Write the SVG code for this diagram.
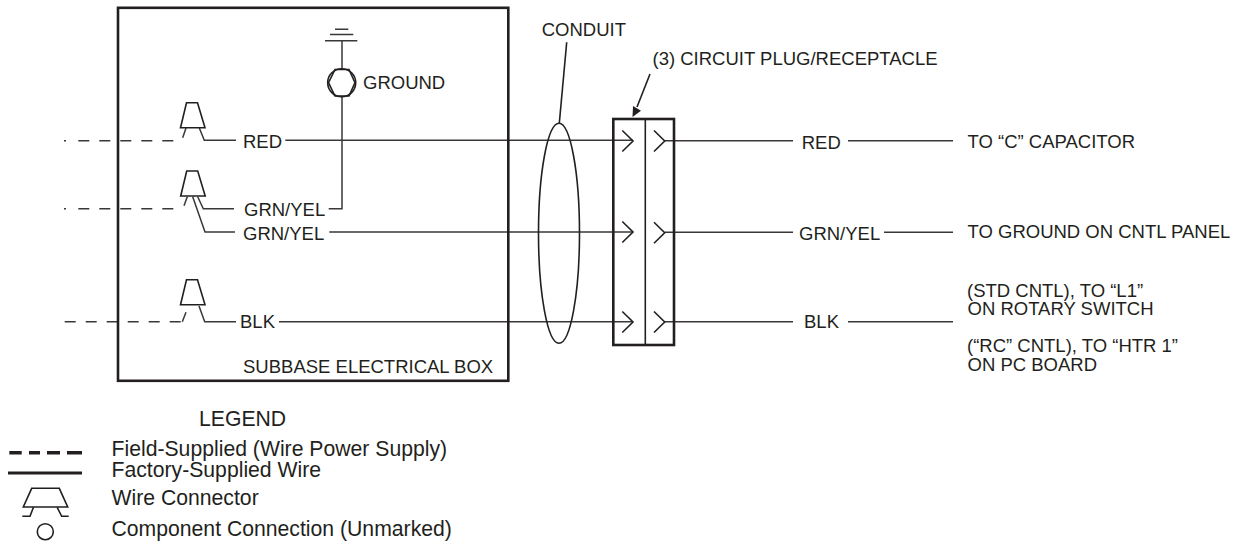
<svg xmlns="http://www.w3.org/2000/svg" width="1239" height="544" viewBox="0 0 1239 544">
<style>
text{font-family:"Liberation Sans",Arial,sans-serif;font-size:18.5px;fill:#231f20}
.l{font-size:21.2px}
.w{fill:none;stroke:#3a3738;stroke-width:1.5}
.d{fill:none;stroke:#3a3738;stroke-width:1.5;stroke-dasharray:11 10}
.k{fill:none;stroke:#231f20;stroke-width:1.6}
.b{fill:none;stroke:#231f20;stroke-width:2.6}
</style>
<defs>
<g id="conn"><path class="k" d="M6 0H17L24.500 25H0Z"/></g>
<path id="chev" class="k" d="M0 -10.500L10.700 0L0 10.500"/>
</defs>
<g id="connectors">
<path class="d" d="M64 140.700H66M78.300 140.700H174"/>
<path class="w" d="M186 128L182.700 137.700M199.300 128L204.300 140.300H236M285.300 140.300H633"/>
<path class="d" d="M64 208.700H66M78.300 208.700H174"/>
<path class="w" d="M187.300 196.700L184 205.700M197.700 196.700L203.300 208.700H234M328.700 208.700H342V96.700M192.700 196.700L205 232H235M329.300 232H633"/>
<path class="d" d="M64.700 321.700H182.300"/>
<path class="w" d="M182.300 321.700L186 312.300M199 306L204.700 321.700H236M279 321.700H633"/>
<path class="w" d="M665 140.700H793M848 140.700H953M665 232.300H793M884 232.300H953M665 321.700H793M848 321.700H953"/>
<path class="k" d="M559.300 123.300L566.700 42.300"/>
<path class="k" d="M650 74L637 107"/>
<path d="M632.500 117L633 106L641 110.800Z" fill="#231f20"/>
</g>
<g id="subbase-box"><rect class="b" x="118" y="7.800" width="390.300" height="373"/><text x="243" y="372.700">SUBBASE ELECTRICAL BOX</text></g>
<g id="ground">
<path class="w" d="M335 29.300H348.300M330 34.500H353.300M325 40.700H357.300M342 40.700V68.300"/>
<circle class="k" cx="341.700" cy="82.700" r="14"/>
<path class="k" d="M335 69.500H349L355 82.700L349 96H335L328.500 82.700Z"/>
<text x="363" y="89">GROUND</text>
</g>
<g id="connector-red"><use href="#conn" x="180.500" y="102.700"/><text x="243" y="147.500">RED</text></g>
<g id="connector-grn"><use href="#conn" x="180.700" y="171"/><text x="244" y="216">GRN/YEL</text><text x="243" y="240">GRN/YEL</text></g>
<g id="connector-blk"><use href="#conn" x="180.500" y="279.700"/><text x="240" y="327.500">BLK</text></g>
<g id="conduit"><ellipse class="k" cx="559" cy="233.300" rx="20.500" ry="110"/><text x="541.700" y="36">CONDUIT</text></g>
<g id="plug">
<rect class="b" x="613.300" y="119" width="60.700" height="226"/>
<path class="k" d="M645.300 119V345"/>
<use href="#chev" x="622.300" y="141"/><use href="#chev" x="654" y="141"/>
<use href="#chev" x="622.300" y="232"/><use href="#chev" x="654" y="232.700"/>
<use href="#chev" x="622.300" y="322"/><use href="#chev" x="654" y="322"/>
<text x="652.500" y="65">(3) CIRCUIT PLUG/RECEPTACLE</text>
</g>
<g id="right-labels">
<text x="801.700" y="149">RED</text><text x="967.500" y="148.300">TO “C” CAPACITOR</text>
<text x="799" y="240">GRN/YEL</text><text x="967.500" y="238.300">TO GROUND ON CNTL PANEL</text>
<text x="804" y="328.300">BLK</text>
<text x="967" y="296.700">(STD CNTL), TO “L1”</text><text x="967.500" y="315">ON ROTARY SWITCH</text>
<text x="967" y="351.700">(“RC” CNTL), TO “HTR 1”</text><text x="967.500" y="370.700">ON PC BOARD</text>
</g>
<g id="legend">
<text class="l" x="199" y="426">LEGEND</text>
<path d="M9.300 452.700H21.700M29 452.700H40M47 452.700H60M67 452.700H82" fill="none" stroke="#231f20" stroke-width="3.600"/>
<path d="M8 473H82" fill="none" stroke="#231f20" stroke-width="3"/>
<path class="k" d="M31.700 488.300H59.300L67.700 507H23.300ZM33.300 507.700L30 516.300H22.300M57.300 507.700L61.700 516.300H68.700"/>
<circle class="k" cx="45.300" cy="531.700" r="8"/>
<text class="l" x="111.500" y="456">Field-Supplied (Wire Power Supply)</text>
<text class="l" x="111.500" y="477.300">Factory-Supplied Wire</text>
<text class="l" x="111.500" y="505.300">Wire Connector</text>
<text class="l" x="111.500" y="536">Component Connection (Unmarked)</text>
</g>
</svg>
